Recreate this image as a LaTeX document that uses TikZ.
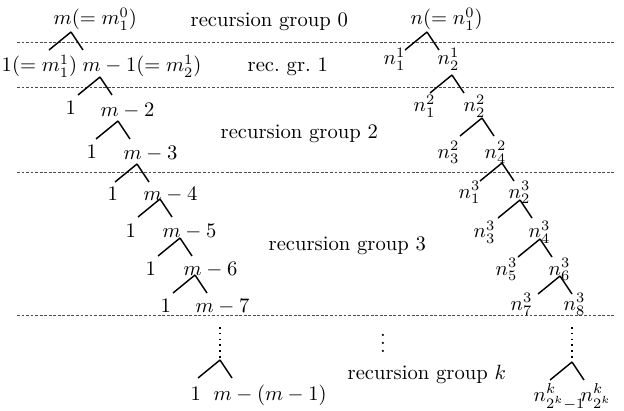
\documentclass[tikz,border=0pt]{standalone}
\usepackage{tikz}

\begin{document}
\begin{tikzpicture}[x=0.485pt,y=-0.485pt,line width=0.7pt,
    lbl/.style={anchor=base west,inner sep=0pt},
    sep/.style={line width=0.4pt,black!70,dash pattern=on 1.4pt off 0.8pt}]
  \useasboundingbox (0,0) rectangle (624,411);

  % separators between the recursion groups
  \foreach \y in {42,87,172,315}
    \draw[sep] (17,\y) -- (614,\y);

  % left tree
  \node[lbl] (m0)  at (53,25)  {$m(=m^0_1)$};
  \node[lbl] (m11) at (1,72)   {$1(=m^1_1)$};
  \node[lbl] (m12) at (82,72)  {$m-1(=m^1_2)$};
  \node[lbl] (l2)  at (65,115) {$1$};
  \node[lbl] (m2)  at (100,116) {$m-2$};
  \node[lbl] (l3)  at (86,159) {$1$};
  \node[lbl] (m3)  at (123,160) {$m-3$};
  \node[lbl] (l4)  at (107,201) {$1$};
  \node[lbl] (m4)  at (143,201) {$m-4$};
  \node[lbl] (l5)  at (125,238) {$1$};
  \node[lbl] (m5)  at (162,238) {$m-5$};
  \node[lbl] (l6)  at (145,275) {$1$};
  \node[lbl] (m6)  at (183,275) {$m-6$};
  \node[lbl] (l7)  at (160,312) {$1$};
  \node[lbl] (m7)  at (195,312) {$m-7$};
  \node[lbl] (lk)  at (190,400) {$1$};
  \node[lbl] (mk)  at (213,400) {$m-(m-1)$};

  % right tree
  \node[lbl] (n0)  at (410,25)  {$n(=n^0_1)$};
  \node[lbl] (n11) at (383,65)  {$n^1_1$};
  \node[lbl] (n12) at (437,65)  {$n^1_2$};
  \node[lbl] (n21) at (413,112) {$n^2_1$};
  \node[lbl] (n22) at (463,112) {$n^2_2$};
  \node[lbl] (n23) at (437,158) {$n^2_3$};
  \node[lbl] (n24) at (484,158) {$n^2_4$};
  \node[lbl] (n31) at (458,198) {$n^3_1$};
  \node[lbl] (n32) at (508,198) {$n^3_2$};
  \node[lbl] (n33) at (473,238) {$n^3_3$};
  \node[lbl] (n34) at (528,238) {$n^3_4$};
  \node[lbl] (n35) at (495,275) {$n^3_5$};
  \node[lbl] (n36) at (548,275) {$n^3_6$};
  \node[lbl] (n37) at (510,310) {$n^3_7$};
  \node[lbl] (n38) at (563,310) {$n^3_8$};
  \node[lbl] (nk1) at (533,401) {$n^k_{2^k-1}$};
  \node[lbl] (nk2) at (580,401) {$n^k_{2^k}$};

  % group labels
  \node[lbl] (g0) at (190,27)  {recursion group 0};
  \node[lbl] (g1) at (247,72)  {rec.\ gr.\ 1};
  \node[lbl] (g2) at (220,139) {recursion group 2};
  \node[lbl] (g3) at (268,250) {recursion group 3};
  \node[lbl] (gk) at (347,379) {recursion group $k$};
  \node (dots) at (383,337) {$\vdots$};

  % branch points
  \coordinate (a0) at (71,32);
  \coordinate (a1) at (100,77);
  \coordinate (a2) at (118,121);
  \coordinate (a3) at (137,164);
  \coordinate (a4) at (160,199);
  \coordinate (a5) at (180,238);
  \coordinate (a6) at (195,275);
  \coordinate (ak) at (220,360);
  \coordinate (b0) at (427,32);
  \coordinate (b1) at (452,75);
  \coordinate (b2) at (482,118);
  \coordinate (b3) at (502,163);
  \coordinate (b4) at (520,200);
  \coordinate (b5) at (540,239);
  \coordinate (b6) at (560,276);
  \coordinate (bk) at (572,362);

  \foreach \p in {a0,a1,a2,a3,a4,a5,a6,ak,b0,b1,b2,b3,b4,b5,b6,bk}
    \draw (\p) -- ++(-22,18) (\p) -- ++(12,18);

  % the skipped levels
  \draw[line width=0.8pt,dotted] (220,327) -- (ak);
  \draw[line width=0.8pt,dotted] (572,327) -- (bk);
\end{tikzpicture}
\end{document}
